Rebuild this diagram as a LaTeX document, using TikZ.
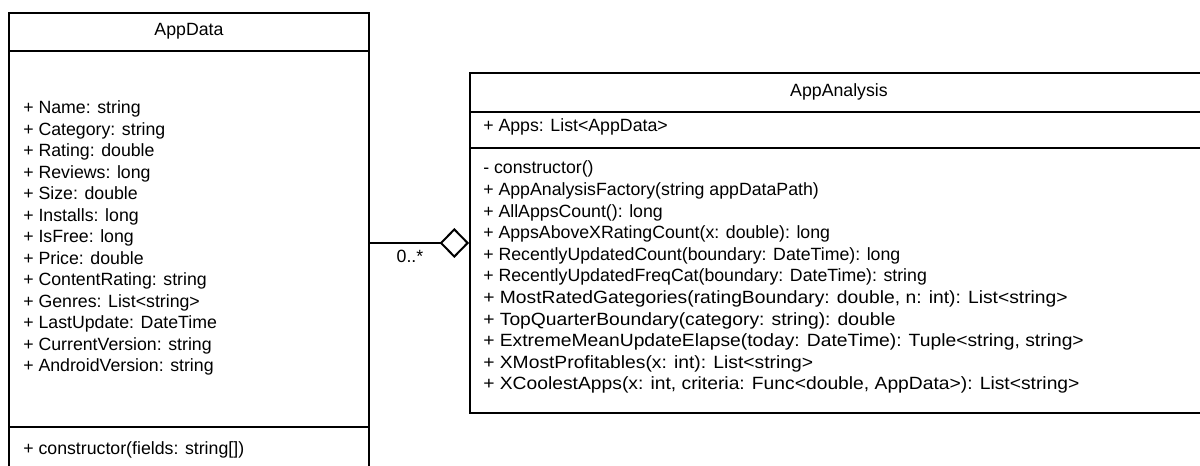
\documentclass[tikz,border=0pt]{standalone}
\usepackage{fontspec}
\setmainfont{Liberation Sans}
\newfontfamily\widesans[FakeStretch=1.087]{Liberation Sans}
\usepackage{tikz}
\usetikzlibrary{arrows.meta}

\tikzset{
	classbox/.style = {draw, line width=1.5pt, inner sep=0pt},
	member/.style = {inner sep=0pt, anchor=base west, font=\fontsize{13.3}{16}\selectfont},
	widemember/.style = {member, font=\widesans\fontsize{13.3}{16}\selectfont},
	title/.style = {inner sep=0pt, anchor=base, font=\fontsize{13.3}{16}\selectfont},
	aggr/.style = {line width=1.5pt, -{Diamond[open, length=22pt, width=22.5pt, line width=1.5pt]}}
}

\begin{document}
\begin{tikzpicture}[x=0.75pt, y=-0.75pt]
			%%Location
			\useasboundingbox (0,0) rectangle (1200,466);
			
			%%Boxes
			\node[classbox, minimum width=270pt, minimum height=345pt] (appdata) at (189,243) {};
			\node[classbox, minimum width=553.5pt, minimum height=255pt] (appanalysis) at (839,243) {};
			\draw[line width=1.5pt] (appdata.west |- 0,51) -- (appdata.east |- 0,51);
			\draw[line width=1.5pt] (appdata.west |- 0,427) -- (appdata.east |- 0,427);
			\draw[line width=1.5pt] (appanalysis.west |- 0,112) -- (appanalysis.east |- 0,112);
			\draw[line width=1.5pt] (appanalysis.west |- 0,148) -- (appanalysis.east |- 0,148);
			
			%%AppData
			\node[title] (dTitle) at (189,36) {AppData};
			\node[member] (dName) at (23,114) {+ Name: string};
			\node[member] (dCategory) at (23,135.5) {+ Category: string};
			\node[member] (dRating) at (23,157) {+ Rating: double};
			\node[member] (dReviews) at (23,178.5) {+ Reviews: long};
			\node[member] (dSize) at (23,200) {+ Size: double};
			\node[member] (dInstalls) at (23,221.5) {+ Installs: long};
			\node[member] (dIsFree) at (23,243) {+ IsFree: long};
			\node[member] (dPrice) at (23,264.5) {+ Price: double};
			\node[member] (dContent) at (23,286) {+ ContentRating: string};
			\node[member] (dGenres) at (23,307.5) {+ Genres: List<string>};
			\node[member] (dLast) at (23,329) {+ LastUpdate: DateTime};
			\node[member] (dCurrent) at (23,350.5) {+ CurrentVersion: string};
			\node[member] (dAndroid) at (23,372) {+ AndroidVersion: string};
			\node[member] (dCtor) at (23,455) {+ constructor(fields: string[])};
			
			%%AppAnalysis
			\node[title] (aTitle) at (839,97) {AppAnalysis};
			\node[member] (aApps) at (483,132) {+ Apps: List<AppData>};
			\node[member] (aCtor) at (483,174) {- constructor()};
			\node[member] (aFactory) at (483,195.6) {+ AppAnalysisFactory(string appDataPath)};
			\node[member] (aAll) at (483,217.2) {+ AllAppsCount(): long};
			\node[member] (aAbove) at (483,238.8) {+ AppsAboveXRatingCount(x: double): long};
			\node[member] (aRecent) at (483,260.4) {+ RecentlyUpdatedCount(boundary: DateTime): long};
			\node[member] (aFreq) at (483,282) {+ RecentlyUpdatedFreqCat(boundary: DateTime): string};
			\node[widemember] (aMost) at (483,303.6) {+ MostRatedGategories(ratingBoundary: double, n: int): List<string>};
			\node[widemember] (aTop) at (483,325.2) {+ TopQuarterBoundary(category: string): double};
			\node[widemember] (aExtreme) at (483,346.8) {+ ExtremeMeanUpdateElapse(today: DateTime): Tuple<string, string>};
			\node[widemember] (aProfit) at (483,368.4) {+ XMostProfitables(x: int): List<string>};
			\node[widemember] (aCool) at (483,390) {+ XCoolestApps(x: int, criteria: Func<double, AppData>): List<string>};
			
			%%Link
			\draw[aggr] (appdata.east) -- (appanalysis.west);
			\node[title] (mult) at (410,263) {0..*};
			
\end{tikzpicture}
\end{document}
